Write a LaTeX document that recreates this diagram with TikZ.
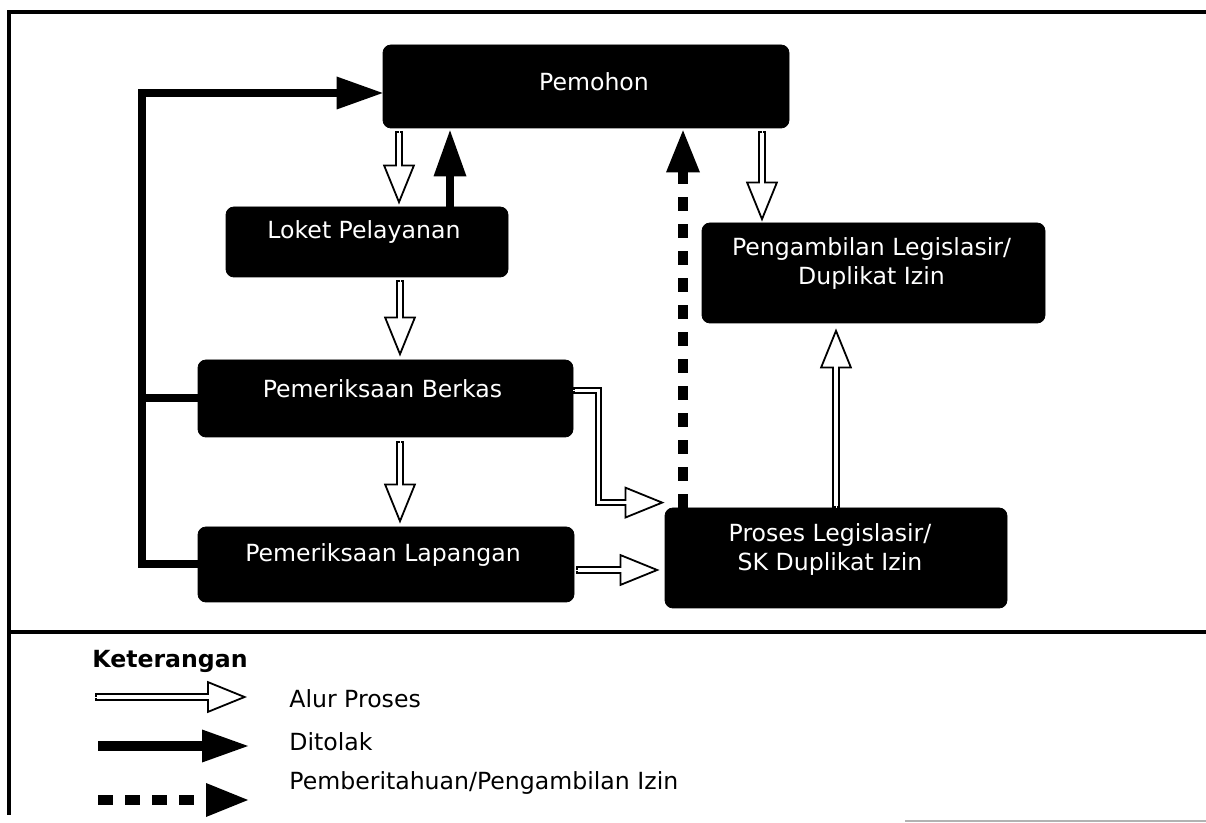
\documentclass[tikz,border=0pt]{standalone}
\usepackage{fontspec}
\setmainfont{DejaVu Sans}
\usepackage{tikz}
\usetikzlibrary{positioning,arrows.meta,calc}
\newcommand{\boxfont}{\fontsize{11.8}{14.5}\selectfont}
\tikzset{
  node-box/.style={draw=black,fill=black,rounded corners=4pt,inner sep=0pt},
  node-label/.style={text=white,align=center,font=\boxfont,inner sep=0pt},
  legend-label/.style={anchor=base west,font=\boxfont,inner sep=0pt},
  % hollow arrow: black shaft, white core, open head on top
  arrow-flow/.style={draw=black,line width=3.6pt,shorten >=19pt,
    postaction={draw=white,line width=0.1pt,shorten >=0pt,
      -{Triangle[length=20pt,width=16pt,line width=0.9pt,color=black,fill=white]}},
    postaction={draw=white,line width=1.8pt,shorten >=17.5pt,shorten <=0.9pt}},
  arrow-reject/.style={draw=black,line width=4pt,
    -{Triangle[length=23pt,width=16.5pt,line width=0pt]}},
  line-reject/.style={draw=black,line width=4pt},
  arrow-info/.style={draw=black,line width=5pt,dash pattern=on 7pt off 6.5pt,
    -{Triangle[length=21pt,width=17pt,line width=0pt]}},
  frame-line/.style={draw=black,line width=1.6pt},
}

\begin{document}
\begin{tikzpicture}[x=0.5pt,y=-0.5pt]
  \useasboundingbox (0,0) rectangle (1206,823);
  % frame
  \draw[frame-line] (1206,12) -- (9,12) -- (9,815);
  \draw[frame-line] (9,632) -- (1206,632);
  \draw[draw=gray!60,line width=0.6pt] (905,821) -- (1206,821);

  % boxes
  \node[node-box,minimum width=203pt,minimum height=41.5pt] (pemohon) at (586,86.5) {};
  \node[node-box,minimum width=141pt,minimum height=35pt] (loket) at (367,242) {};
  \node[node-box,minimum width=187.5pt,minimum height=38.5pt] (berkas) at (385.5,398.5) {};
  \node[node-box,minimum width=188pt,minimum height=37.5pt] (lapangan) at (386,564.5) {};
  \node[node-box,minimum width=171.5pt,minimum height=50pt] (ambil) at (873.5,273) {};
  \node[node-box,minimum width=171pt,minimum height=50pt] (proses) at (836,558) {};

  \node[node-label] (pemohon-t) at ($(pemohon.center)+(4pt,2.25pt)$) {Pemohon};
  \node[node-label] (loket-t) at ($(loket.center)+(-1.5pt,5pt)$) {Loket Pelayanan};
  \node[node-label] (berkas-t) at ($(berkas.center)+(-1.5pt,5pt)$) {Pemeriksaan Berkas};
  \node[node-label] (lapangan-t) at ($(lapangan.center)+(-1.5pt,5pt)$) {Pemeriksaan Lapangan};
  \node[node-label] (ambil-t) at ($(ambil.center)+(-1pt,5pt)$) {Pengambilan Legislasir/\\Duplikat Izin};
  \node[node-label] (proses-t) at ($(proses.center)+(-3pt,4.5pt)$) {Proses Legislasir/\\SK Duplikat Izin};

  % alur proses
  \draw[arrow-flow] ($(loket.north |- pemohon.south)+(16pt,-1.5pt)$) -- ($(loket.north)+(16pt,1pt)$);
  \draw[arrow-flow] ($(ambil.north |- pemohon.south)+(-55.75pt,-1.5pt)$) -- ($(ambil.north)+(-55.75pt,0.5pt)$);
  \draw[arrow-flow] ($(loket.south)+(16.5pt,-1.5pt)$) -- ($(loket.south |- berkas.north)+(16.5pt,1.5pt)$);
  \draw[arrow-flow] ($(berkas.south)+(7.25pt,-2pt)$) -- ($(berkas.south |- lapangan.north)+(7.25pt,1.5pt)$);
  \draw[arrow-flow] ($(berkas.east)+(0,4pt)$) -- ++(12.5pt,0) |- ($(proses.north west)+(0,2.5pt)$);
  \draw[arrow-flow] ($(lapangan.east)+(1pt,-2.75pt)$) -- ($(lapangan.east -| proses.west)+(-2.5pt,-2.75pt)$);
  \draw[arrow-flow] (proses.north) -- ($(proses.north |- ambil.south)+(0,-2.5pt)$);

  % ditolak
  \coordinate (reject-turn) at (142,93);
  \draw[arrow-reject] ($(loket.north)+(41.5pt,0)$) -- ($(loket.north |- pemohon.south)+(41.5pt,-1pt)$);
  \draw[line-reject] (berkas.west) -- (berkas.west -| reject-turn);
  \draw[arrow-reject] (lapangan.west) -| (reject-turn) -- (reject-turn -| pemohon.west);

  % pemberitahuan
  \draw[arrow-info] ($(proses.north)+(-76.5pt,0)$) -- ($(proses.north |- pemohon.south)+(-76.5pt,-1pt)$);

  % keterangan
  \node[legend-label,font=\boxfont\bfseries] (legend-title) at (92,668) {Keterangan};
  \node[legend-label] (legend-flow) at (289,707) {Alur Proses};
  \node[legend-label] (legend-reject) at (289,750) {Ditolak};
  \node[legend-label] (legend-info) at (289,790) {Pemberitahuan/Pengambilan Izin};
  \coordinate (key-flow-a) at (95,697);
  \coordinate (key-flow-b) at (247,697);
  \coordinate (key-reject-a) at (98,746);
  \coordinate (key-reject-b) at (248,746);
  \coordinate (key-info-a) at (98,800);
  \coordinate (key-info-b) at (248,800);
  \draw[arrow-flow] (key-flow-a) -- (key-flow-b);
  \draw[arrow-reject,line width=5pt] (key-reject-a) -- (key-reject-b);
  \draw[arrow-info,dash pattern=on 7.5pt off 6pt] (key-info-a) -- (key-info-b);
\end{tikzpicture}
\end{document}
